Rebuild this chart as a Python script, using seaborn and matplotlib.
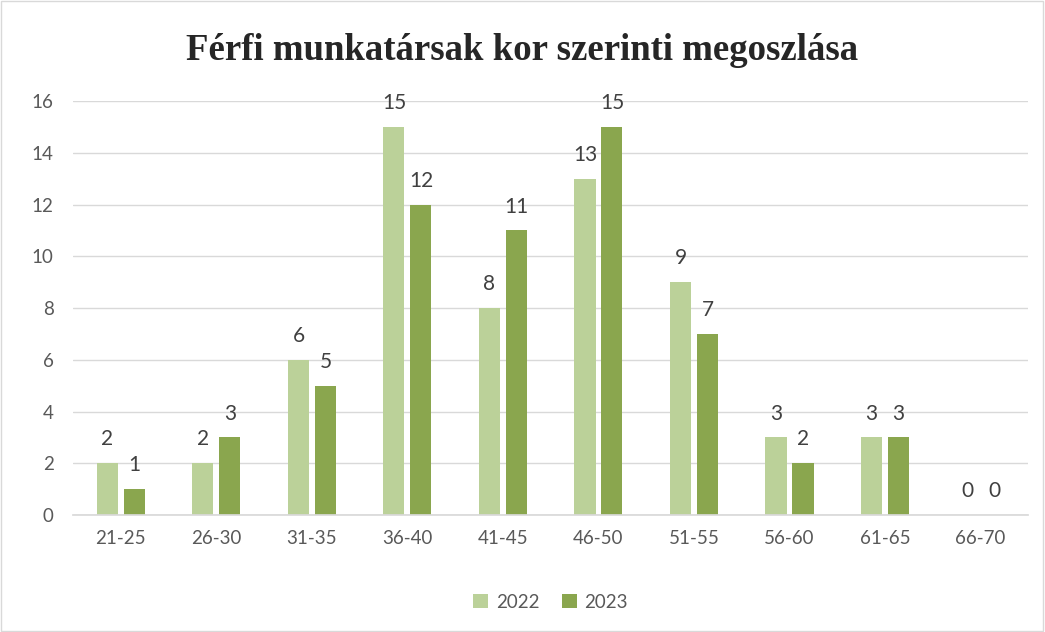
import pandas as pd
import matplotlib.pyplot as plt
import seaborn as sns
from matplotlib.patches import Rectangle

# Data
age_groups = ["21-25", "26-30", "31-35", "36-40", "41-45", "46-50", "51-55", "56-60", "61-65", "66-70"]
years = ["2022", "2023"]
counts_2022 = [2, 2, 6, 15, 8, 13, 9, 3, 3, 0]
counts_2023 = [1, 3, 5, 12, 11, 15, 7, 2, 3, 0]
colors = ["#BBD199", "#8AA64E"]

df = pd.DataFrame({
    "age": age_groups * 2,
    "year": [years[0]] * len(age_groups) + [years[1]] * len(age_groups),
    "count": counts_2022 + counts_2023,
})

sns.set_theme(style="white")
plt.rcParams["font.family"] = ["Lato", "DejaVu Sans"]

fig = plt.figure(figsize=(10.45, 6.32), dpi=100)
ax = fig.add_axes([0.07, 0.185, 0.914, 0.655])

sns.barplot(data=df, x="age", y="count", hue="year", palette=colors,
            width=0.565, gap=0.22, ax=ax, saturation=1, legend=True,
            linewidth=0, edgecolor="none")

# value labels
for cont in ax.containers:
    ax.bar_label(cont, padding=10, fontsize=15, color="#404040")

ax.set_ylim(0, 16)
ax.set_yticks(range(0, 17, 2))
ax.yaxis.grid(True, color="#D9D9D9", linewidth=1)
ax.set_axisbelow(True)
for s in ["top", "right", "left"]:
    ax.spines[s].set_visible(False)
ax.spines["bottom"].set_color("#D9D9D9")
ax.tick_params(axis="both", labelsize=13.5, colors="#595959", length=0)
ax.tick_params(axis="x", pad=11)
ax.tick_params(axis="y", pad=14)
ax.set_xlabel("")
ax.set_ylabel("")

fig.suptitle("Férfi munkatársak kor szerinti megoszlása", y=0.948,
             fontsize=26.5, fontweight="bold", family="Liberation Serif")

leg = ax.legend(loc="center", bbox_to_anchor=(0.5, -0.21), ncol=2, frameon=False,
                fontsize=13.5, handlelength=0.8, handleheight=0.8, columnspacing=1.2,
                handletextpad=0.4)
for t in leg.get_texts():
    t.set_color("#595959")

fig.patches.append(Rectangle((0.001, 0.001), 0.997, 0.997, transform=fig.transFigure,
                             fill=False, edgecolor="#D9D9D9", linewidth=1))

fig.savefig("out.png", dpi=100)
